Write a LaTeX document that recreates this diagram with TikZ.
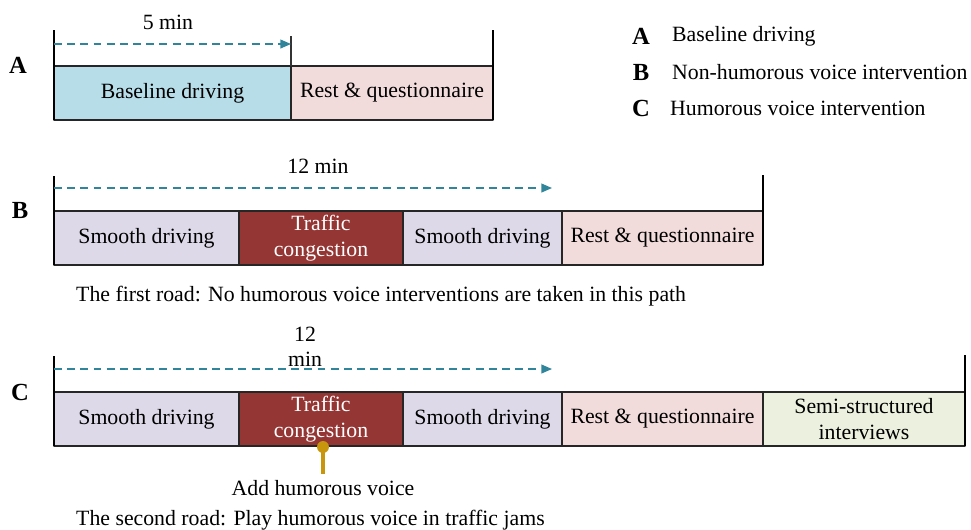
\documentclass[tikz,border=0pt]{standalone}
\usepackage{fontspec}
\setmainfont{Liberation Serif}
\usetikzlibrary{positioning,arrows.meta}

\definecolor{baseblue}{RGB}{183,221,232}
\definecolor{restpink}{RGB}{242,220,219}
\definecolor{smoothlav}{RGB}{222,217,232}
\definecolor{jamred}{RGB}{148,54,52}
\definecolor{semigreen}{RGB}{235,241,222}
\definecolor{spanteal}{RGB}{49,133,155}
\definecolor{pingold}{RGB}{200,150,12}

\def\px{0.02cm}

\begin{document}
\begin{tikzpicture}[
		x=0.02cm, y=-0.02cm,
		font=\fontsize{12.4}{14.6}\selectfont,
		line join=round,
		stage/.style={draw=black!85, line width=0.6pt, minimum height={54*\px},
			inner sep=0pt, outer sep=0pt, align=center, anchor=west},
		tick/.style={black, line width=1.3pt},
		midtick/.style={black!80, line width=0.8pt},
		span/.style={spanteal, line width=0.7pt, dash pattern=on 4.5pt off 3pt,
			-{Triangle[length=6pt, width=5pt]}},
		letter/.style={font=\fontsize{14}{16}\selectfont\bfseries},
		pinline/.style={pingold, line width=1.8pt}
		]
		
		\useasboundingbox (0,0) rectangle (971,529);
		
		% legend
		\node[letter] (la) at (641,36) {A};
		\node[letter] (lb) at (641,72) {B};
		\node[letter] (lc) at (641,108) {C};
		\node[anchor=west] (ta) at (666,36) {Baseline driving};
		\node[anchor=west] (tb) at (666,72) {Non-humorous voice intervention};
		\node[anchor=west] (tc) at (664,108) {Humorous voice intervention};
		
		% A
		\node[letter] (ra) at (18,65) {A};
		\node[stage, fill=baseblue, minimum width={237*\px}] (a1) at (54,93) {Baseline driving};
		\node[stage, fill=restpink, minimum width={202*\px}, right=0pt of a1] (a2) {Rest \& questionnaire};
		\draw[tick] (a1.south west) -- ++(0,-90);
		\draw[tick] (a2.south east) -- ++(0,-90);
		\draw[midtick] (a1.north east) -- ++(0,-30);
		\coordinate (as) at (54,44);
		\coordinate (ae) at (291,44);
		\draw[span] (as) -- (ae);
		\node (da) at (168,22) {5 min};
		
		% B
		\node[letter] (rb) at (20,210) {B};
		\node[stage, fill=smoothlav, minimum width={185*\px}] (b1) at (54,238) {Smooth driving};
		\node[stage, fill=jamred, text=white, minimum width={164*\px}, right=0pt of b1] (b2) {Traffic\\congestion};
		\node[stage, fill=smoothlav, minimum width={159*\px}, right=0pt of b2] (b3) {Smooth driving};
		\node[stage, fill=restpink, minimum width={201*\px}, right=0pt of b3] (b4) {Rest \& questionnaire};
		\draw[tick] (b1.south west) -- ++(0,-89);
		\draw[tick] (b4.south east) -- ++(0,-90);
		\coordinate (bs) at (54,188);
		\coordinate (be) at (552,188);
		\draw[span] (bs) -- (be);
		\node (db) at (318,166) {12 min};
		\node[anchor=west] (cb) at (70,296) {The first road: No humorous voice interventions are taken in this path};
		
		% C
		\node[letter] (rc) at (20,392) {C};
		\node[stage, fill=smoothlav, minimum width={185*\px}] (c1) at (54,419) {Smooth driving};
		\node[stage, fill=jamred, text=white, minimum width={164*\px}, right=0pt of c1] (c2) {Traffic\\congestion};
		\node[stage, fill=smoothlav, minimum width={159*\px}, right=0pt of c2] (c3) {Smooth driving};
		\node[stage, fill=restpink, minimum width={201*\px}, right=0pt of c3] (c4) {Rest \& questionnaire};
		\node[stage, fill=semigreen, minimum width={202*\px}, right=0pt of c4] (c5) {Semi-structured\\interviews};
		\draw[tick] (c1.south west) -- ++(0,-90);
		\draw[tick] (c5.south east) -- ++(0,-91);
		\coordinate (cs) at (54,369);
		\coordinate (ce) at (552,369);
		\draw[span] (cs) -- (ce);
		\node[align=center, font=\fontsize{12.4}{14.2}\selectfont] (dc) at (305,347) {12\\min};
		
		\coordinate (pin) at (323,447);
		\node (addv) at (323,488) {Add humorous voice};
		\draw[pinline] (pin) -- (addv.north);
		\fill[pingold] (pin) circle (3.4pt);
		\node[anchor=west] (cc) at (70,520) {The second road: Play humorous voice in traffic jams};
		
	\end{tikzpicture}
\end{document}
